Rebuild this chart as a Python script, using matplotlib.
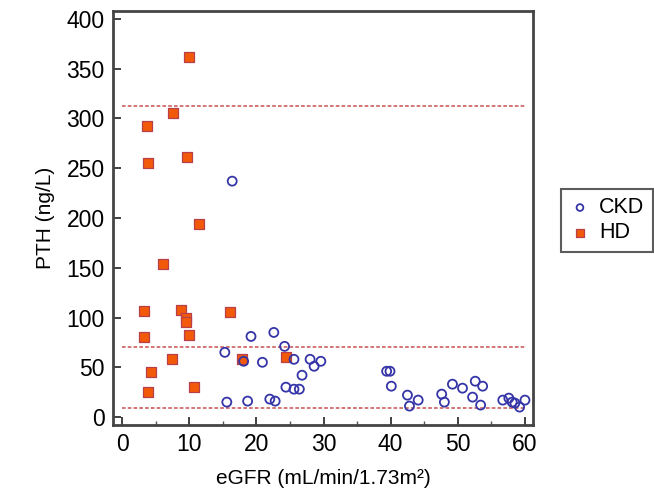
import matplotlib
matplotlib.use("Agg")
import matplotlib.pyplot as plt
from matplotlib.ticker import MultipleLocator

plt.rcParams['font.family'] = ['Liberation Sans', 'DejaVu Sans']

# CKD group (open circles)
ckd_egfr = [16.4, 19.2, 22.6, 24.2, 15.3, 18.1, 20.9, 25.6, 28.0, 28.6, 29.6, 26.8,
            24.4, 25.6, 26.4, 15.6, 18.7, 22.0, 22.8,
            39.4, 39.9, 40.1, 42.5, 44.1, 42.8, 47.6, 48.0, 49.2, 50.7, 52.6, 53.7,
            52.2, 53.4, 56.7, 57.6, 58.1, 58.5, 59.2, 60.0]
ckd_pth = [237, 81, 85, 71, 65, 56, 55, 58, 58, 51, 56, 42,
           30, 28, 28, 15, 16, 18, 16,
           46, 46, 31, 22, 17, 11, 23, 15, 33, 29, 36, 31,
           20, 12, 17, 19, 15, 14, 10, 17]

# HD group (filled squares)
hd_egfr = [10.0, 7.6, 3.7, 3.9, 9.7, 11.5, 6.1, 3.3, 8.8, 9.5, 9.5, 9.9, 16.0,
           3.3, 7.4, 4.3, 3.8, 10.7, 17.8, 24.4]
hd_pth = [362, 305, 292, 255, 261, 194, 154, 107, 108, 99, 95, 82, 106,
          80, 58, 45, 25, 30, 58, 60]

# Reference lines
ref_levels = [313, 70, 9]
ref_x = [0, 60]

fig = plt.figure(figsize=(6.54, 4.98), dpi=100)
ax = fig.add_axes([0.1728, 0.1466, 0.815 - 0.1728, 0.978 - 0.1466])

for lv in ref_levels:
    ax.plot(ref_x, [lv, lv], linestyle=(0, (2, 1.2)), color='#d06a6a', linewidth=1.3, zorder=1)

ax.scatter(ckd_egfr, ckd_pth, marker='o', s=42, facecolors='none', edgecolors='#3535a8',
           linewidths=1.3, label='CKD', zorder=3)
ax.scatter(hd_egfr, hd_pth, marker='s', s=48, facecolors='#f25a0a', edgecolors='#b8404a',
           linewidths=0.9, label='HD', zorder=2)

ax.set_xlim(-1.35, 61.2)
ax.set_ylim(-8, 408)
ax.xaxis.set_major_locator(MultipleLocator(10))
ax.xaxis.set_minor_locator(MultipleLocator(5))
ax.yaxis.set_major_locator(MultipleLocator(50))
ax.tick_params(axis='both', which='major', direction='in', length=6, width=1.3,
               labelsize=16.5, color='#333333', pad=6)
ax.tick_params(axis='both', which='minor', direction='in', length=3, width=1.0, color='#555555')
ax.tick_params(axis='y', which='minor', left=False)

for sp in ax.spines.values():
    sp.set_linewidth(2.0)
    sp.set_color('#444444')

ax.set_xlabel('eGFR (mL/min/1.73m²)', fontsize=15, labelpad=9)
ax.set_ylabel('PTH (ng/L)', fontsize=15, labelpad=8)

leg = ax.legend(loc='upper left', bbox_to_anchor=(1.04, 0.597), fontsize=15.5,
                frameon=True, fancybox=False, edgecolor='#333333', handletextpad=0.4,
                handlelength=1.0, borderpad=0.4, labelspacing=0.2, markerscale=0.75)
leg.get_frame().set_linewidth(1.5)

fig.savefig('out.png', dpi=100)
